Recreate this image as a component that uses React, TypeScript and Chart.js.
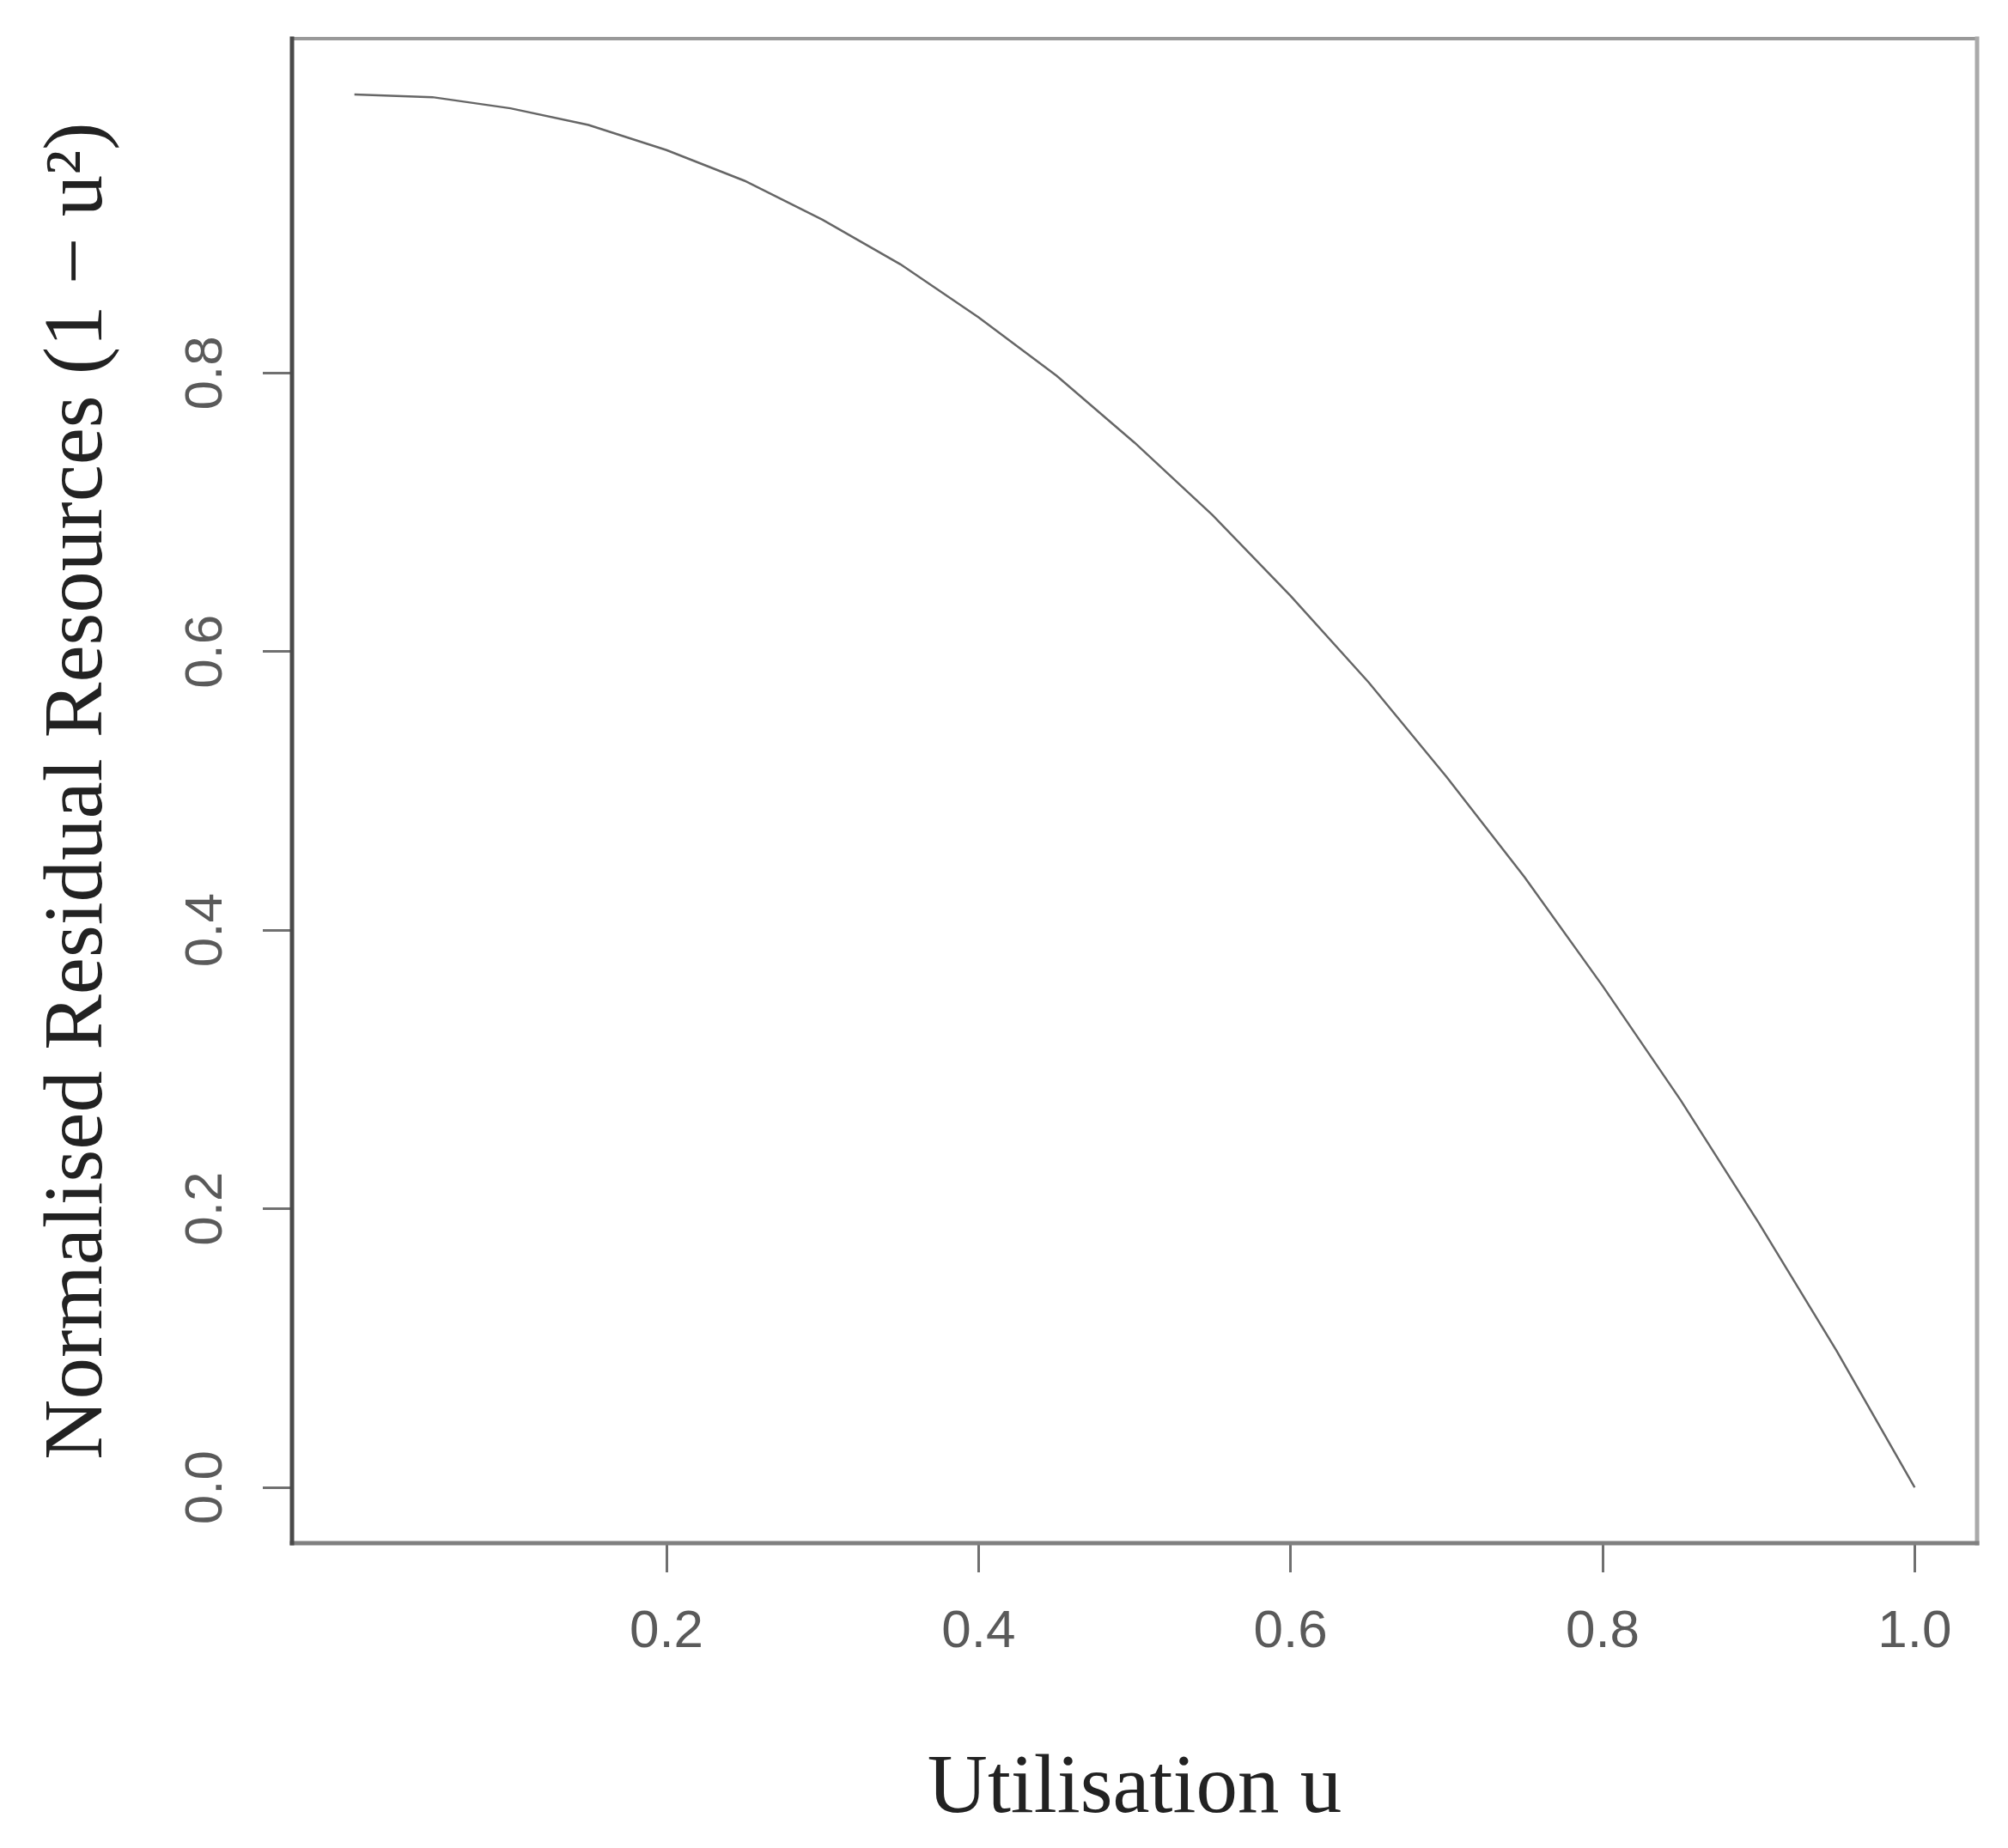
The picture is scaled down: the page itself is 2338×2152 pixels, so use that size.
import React, { useEffect, useRef } from "react";
import { Chart, registerables } from "chart.js";

Chart.register(...registerables);

// Data
const utilisation = [
  0.0, 0.05, 0.1, 0.15, 0.2, 0.25, 0.3, 0.35, 0.4, 0.45, 0.5,
  0.55, 0.6, 0.65, 0.7, 0.75, 0.8, 0.85, 0.9, 0.95, 1.0,
];
const residual = [
  1.0, 0.998, 0.99, 0.978, 0.96, 0.938, 0.91, 0.878, 0.84, 0.798, 0.75,
  0.698, 0.64, 0.578, 0.51, 0.438, 0.36, 0.278, 0.19, 0.098, 0.0,
];
const xTickValues = [0.2, 0.4, 0.6, 0.8, 1.0];
const yTickValues = [0.0, 0.2, 0.4, 0.6, 0.8];
const xTitle = "Utilisation u";
const yTitle = "Normalised Residual Resources (1 − u²)";

const W = 2338;
const H = 2152;

const framePlugin = {
  id: "frame",
  afterDraw(chart: any) {
    const { ctx, chartArea } = chart;
    const { left, right, top, bottom } = chartArea;
    ctx.save();
    ctx.lineCap = "square";
    // top
    ctx.strokeStyle = "#999999";
    ctx.lineWidth = 4;
    ctx.beginPath();
    ctx.moveTo(left, top);
    ctx.lineTo(right, top);
    ctx.stroke();
    // right
    ctx.strokeStyle = "#aaaaaa";
    ctx.lineWidth = 5;
    ctx.beginPath();
    ctx.moveTo(right, top);
    ctx.lineTo(right, bottom);
    ctx.stroke();
    // bottom
    ctx.strokeStyle = "#808080";
    ctx.lineWidth = 5;
    ctx.beginPath();
    ctx.moveTo(left, bottom);
    ctx.lineTo(right, bottom);
    ctx.stroke();
    // left
    ctx.strokeStyle = "#4a4a4a";
    ctx.lineWidth = 5;
    ctx.beginPath();
    ctx.moveTo(left, top);
    ctx.lineTo(left, bottom);
    ctx.stroke();
    ctx.restore();
  },
};

export default function App() {
  const ref = useRef<HTMLCanvasElement | null>(null);

  useEffect(() => {
    const canvas = ref.current;
    if (!canvas) return;
    const chart = new Chart(canvas, {
      type: "line",
      data: {
        datasets: [
          {
            data: utilisation.map((u, i) => ({ x: u, y: residual[i] })),
            borderColor: "#666666",
            borderWidth: 2.5,
            pointRadius: 0,
            tension: 0,
            fill: false,
          },
        ],
      },
      options: {
        responsive: false,
        animation: false,
        devicePixelRatio: 1,
        layout: { padding: { left: 0, right: 36, top: 45, bottom: 0 } },
        plugins: {
          legend: { display: false },
          tooltip: { enabled: false },
        },
        scales: {
          x: {
            type: "linear",
            min: -0.04,
            max: 1.04,
            afterBuildTicks: (scale: any) => {
              scale.ticks = xTickValues.map((v) => ({ value: v }));
            },
            afterFit: (scale: any) => {
              scale.height = 355;
              scale.paddingLeft = 0;
              scale.paddingRight = 0;
            },
            border: { display: false },
            grid: {
              drawOnChartArea: false,
              drawTicks: true,
              tickLength: 34,
              color: "#707070",
              lineWidth: 3,
            },
            ticks: {
              autoSkip: false,
              maxRotation: 0,
              minRotation: 0,
              padding: 33,
              color: "#5a5a5a",
              font: { family: "Liberation Sans", size: 62 },
              callback: (v: any) => Number(v).toFixed(1),
            },
            title: {
              display: true,
              text: xTitle,
              color: "#222222",
              font: { family: "Liberation Serif", size: 97 },
              padding: { top: 0, bottom: 9 },
            },
          },
          y: {
            type: "linear",
            min: -0.04,
            max: 1.04,
            afterBuildTicks: (scale: any) => {
              scale.ticks = yTickValues.map((v) => ({ value: v }));
            },
            afterFit: (scale: any) => {
              scale.width = 340;
              scale.paddingTop = 0;
              scale.paddingBottom = 0;
            },
            border: { display: false },
            grid: {
              drawOnChartArea: false,
              drawTicks: true,
              tickLength: 34,
              color: "#707070",
              lineWidth: 3,
            },
            ticks: {
              autoSkip: false,
              minRotation: 90,
              maxRotation: 90,
              crossAlign: "center",
              padding: 22,
              color: "#5a5a5a",
              font: { family: "Liberation Sans", size: 62 },
              callback: (v: any) => Number(v).toFixed(1),
            },
            title: {
              display: true,
              text: yTitle,
              color: "#222222",
              font: { family: "Liberation Serif", size: 97 },
              padding: { top: 34, bottom: 0 },
            },
          },
        },
      },
      plugins: [framePlugin],
    } as any);
    return () => chart.destroy();
  }, []);

  return (
    <div style={{ position: "absolute", left: 0, top: 0, width: W, height: H, background: "#ffffff" }}>
      <canvas ref={ref} width={W} height={H} style={{ width: W, height: H, display: "block" }} />
    </div>
  );
}
